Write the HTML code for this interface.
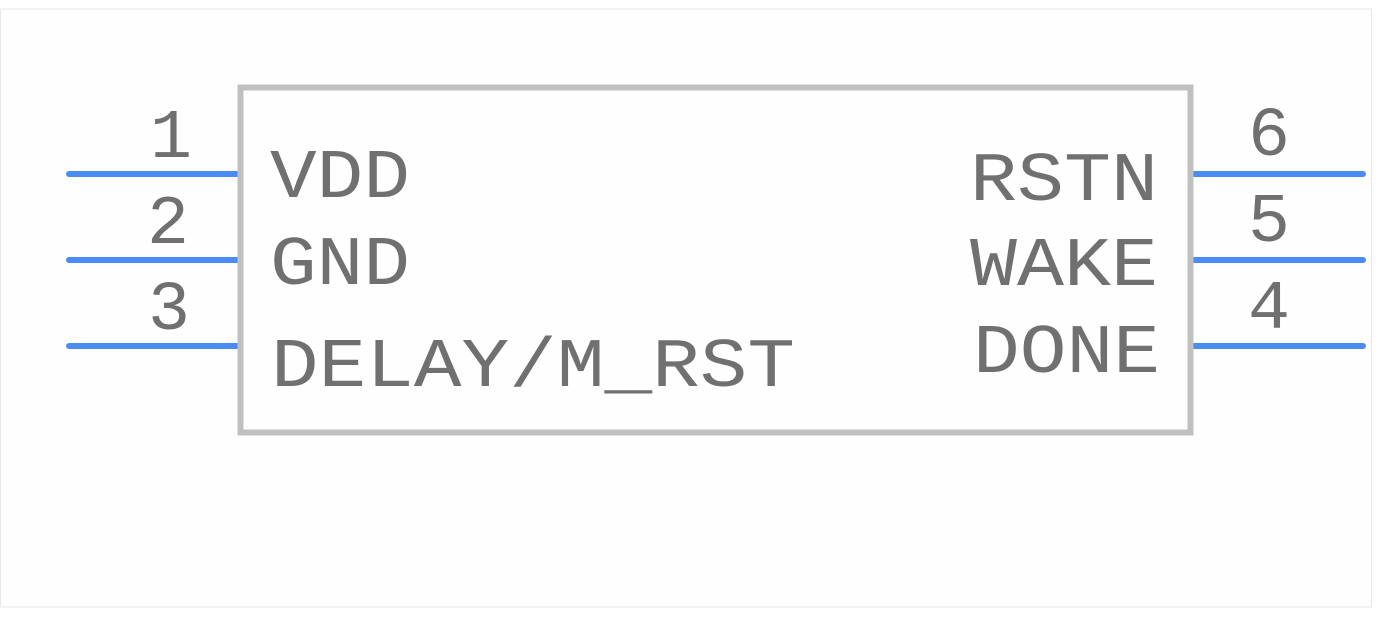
<!DOCTYPE html>
<html><head><meta charset="utf-8"><style>
html,body{margin:0;padding:0;background:#fff;}
svg{display:block;}
text{font-family:"Liberation Mono","DejaVu Sans Mono",monospace;fill:#707070;font-size:70px;}
</style></head><body>
<svg width="1383" height="619" viewBox="0 0 1383 619" xmlns="http://www.w3.org/2000/svg">
<rect x="0.5" y="9" width="1371" height="598" fill="#fefefe" stroke="#e8e8e8" stroke-width="1"/>
<g stroke="#4a8cf4" stroke-width="6" stroke-linecap="round">
<line x1="69" y1="174" x2="238" y2="174"/>
<line x1="69" y1="260" x2="238" y2="260"/>
<line x1="69" y1="346" x2="238" y2="346"/>
<line x1="1193" y1="174" x2="1363" y2="174"/>
<line x1="1193" y1="260" x2="1363" y2="260"/>
<line x1="1193" y1="346" x2="1363" y2="346"/>
</g>
<rect x="240.5" y="87.5" width="950" height="345" fill="none" stroke="#c0c0c0" stroke-width="6"/>
<text x="150" y="157">1</text>
<text x="147" y="243">2</text>
<text x="148" y="329">3</text>
<text x="1248" y="155">6</text>
<text x="1248" y="241">5</text>
<text x="1248" y="328">4</text>
<text x="270" y="197" textLength="140" lengthAdjust="spacingAndGlyphs">VDD</text>
<text x="270" y="284" textLength="140" lengthAdjust="spacingAndGlyphs">GND</text>
<text x="271" y="386" textLength="524" lengthAdjust="spacingAndGlyphs">DELAY/M_RST</text>
<text x="970" y="200" textLength="188" lengthAdjust="spacingAndGlyphs">RSTN</text>
<text x="970" y="285" textLength="188" lengthAdjust="spacingAndGlyphs">WAKE</text>
<text x="973" y="372" textLength="187" lengthAdjust="spacingAndGlyphs">DONE</text>
</svg>
</body></html>
